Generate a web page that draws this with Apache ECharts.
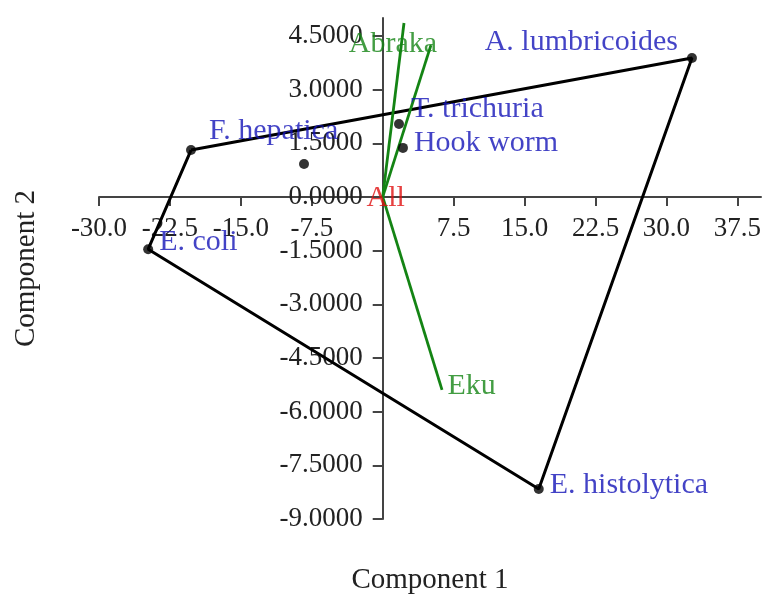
<!DOCTYPE html>
<html>
<head>
<meta charset="utf-8">
<script src="https://cdn.jsdelivr.net/npm/echarts@6/dist/echarts.min.js"></script>
<style>
html,body{margin:0;padding:0;background:#fff;}
#chart{width:762px;height:596px;}
</style>
</head>
<body>
<div id="chart"></div>
<script>
// ---- data ----
const xTicks = [-30, -22.5, -15, -7.5, 0, 7.5, 15, 22.5, 30, 37.5];
const xTickLabels = [-30, -22.5, -15, -7.5, 7.5, 15, 22.5, 30, 37.5];
const yTicks = [-9, -7.5, -6, -4.5, -3, -1.5, 0, 1.5, 3, 4.5];

const pointNames = ['A. lumbricoides', 'F. hepatica', 'E. coli', 'E. histolytica', 'T. trichuria', 'Hook worm', ''];
const pointX = [32.7, -20.27, -24.8, 16.5, 1.72, 2.14, -8.32];
const pointY = [3.88, 1.31, -1.46, -8.16, 2.04, 1.37, 0.92];

const hullOrder = ['F. hepatica', 'A. lumbricoides', 'E. histolytica', 'E. coli', 'F. hepatica'];

const vectorNames = ['Abraka', '', 'Eku'];
const vectorX = [5.1, 2.25, 6.27];
const vectorY = [4.24, 4.86, -5.39];

const originName = 'All';

// axis ranges
const xMin = -30, xMax = 40, xStep = 7.5;
const yMin = -9, yMax = 5, yStep = 1.5;

// ---- styles (label placement) ----
const labelPlace = {
  'A. lumbricoides': {position: 'left', offset: [-4, -16]},
  'F. hepatica': {position: 'right', offset: [8, -19]},
  'E. coli': {position: 'right', offset: [1, -7]},
  'E. histolytica': {position: 'right', offset: [1, -4]},
  'T. trichuria': {position: 'right', offset: [2, -15]},
  'Hook worm': {position: 'right', offset: [1, -5]},
  '': {position: 'right', offset: [0, 0]},
  'Abraka': {position: 'inside', offset: [-38, -1]},
  'Eku': {position: 'right', offset: [0, -4]}
};

const SERIF = '"Liberation Serif", "DejaVu Serif", serif';
const BLUE = '#1414b8';
const GREEN = '#148414';
const LABEL_SIZE = 30;

const W = 762, H = 596;
const grid = {left: 99, right: 1, top: 18, bottom: 77};
const plotW = W - grid.left - grid.right;
const plotH = H - grid.top - grid.bottom;
// pixel offsets so the axes cross at zero
const xAxisOffset = -plotH * (0 - yMin) / (yMax - yMin);
const yAxisOffset = -plotW * (0 - xMin) / (xMax - xMin);

const series = [];

// hull
const hullData = hullOrder.map(n => {
  const i = pointNames.indexOf(n);
  return [pointX[i], pointY[i]];
});
series.push({
  type: 'line', data: hullData, symbol: 'none', z: 3,
  lineStyle: {color: '#000', width: 3}, silent: true, animation: false
});

// vectors
vectorNames.forEach((n, i) => {
  series.push({
    type: 'line', data: [[0, 0], [vectorX[i], vectorY[i]]], symbol: 'none', z: 4,
    lineStyle: {color: GREEN, width: 2.8}, silent: true, animation: false
  });
});
series.push({
  type: 'scatter', symbolSize: 1, z: 6, animation: false,
  itemStyle: {color: 'rgba(0,0,0,0)'},
  data: vectorNames.map((n, i) => ({
    value: [vectorX[i], vectorY[i]], name: n,
    label: {show: n !== '', formatter: n, position: labelPlace[n].position, offset: labelPlace[n].offset,
      color: GREEN, fontSize: LABEL_SIZE, fontFamily: SERIF}
  }))
});

// points
series.push({
  type: 'scatter', symbolSize: 10, z: 5, animation: false,
  itemStyle: {color: '#000'},
  data: pointNames.map((n, i) => ({
    value: [pointX[i], pointY[i]], name: n,
    label: {show: n !== '', formatter: n, position: labelPlace[n].position, offset: labelPlace[n].offset,
      color: BLUE, fontSize: LABEL_SIZE, fontFamily: SERIF}
  }))
});

// origin label
series.push({
  type: 'scatter', symbolSize: 1, z: 6, animation: false,
  itemStyle: {color: 'rgba(0,0,0,0)'},
  data: [{value: [0, 0], name: originName,
    label: {show: true, formatter: originName, position: 'inside', offset: [3, 1],
      color: '#e01010', fontSize: LABEL_SIZE, fontFamily: SERIF}}]
});

const axisColor = '#444';
const option = {
  backgroundColor: '#fff',
  animation: false,
  grid: {left: grid.left, right: grid.right, top: grid.top, bottom: grid.bottom, containLabel: false, outerBoundsMode: 'none'},
  xAxis: {
    type: 'value', min: xMin, max: xMax, interval: xStep,
    position: 'bottom', offset: xAxisOffset,
    name: 'Component 1', nameLocation: 'middle', nameGap: 369,
    nameTextStyle: {fontSize: 29, fontFamily: SERIF, color: '#222'},
    splitLine: {show: false},
    axisLine: {onZero: false, lineStyle: {color: axisColor, width: 2}},
    axisTick: {show: true, length: 9, customValues: xTicks, lineStyle: {color: axisColor, width: 2}},
    axisLabel: {customValues: xTickLabels, margin: 18, fontSize: 27, fontFamily: SERIF, color: '#222',
      formatter: v => Number(v).toFixed(1)}
  },
  yAxis: {
    type: 'value', min: yMin, max: yMax, interval: yStep,
    position: 'left', offset: yAxisOffset,
    name: 'Component 2', nameLocation: 'middle', nameGap: 342,
    nameTextStyle: {fontSize: 29, fontFamily: SERIF, color: '#222'},
    splitLine: {show: false},
    axisLine: {onZero: false, lineStyle: {color: axisColor, width: 2}},
    axisTick: {show: true, length: 10, customValues: yTicks, lineStyle: {color: axisColor, width: 2}},
    axisLabel: {customValues: yTicks, margin: 20, fontSize: 27, fontFamily: SERIF, color: '#222',
      formatter: v => Number(v).toFixed(4)}
  },
  series: series
};

const chart = echarts.init(document.getElementById('chart'), null, {renderer: 'canvas'});
chart.setOption(option);
</script>
</body>
</html>
